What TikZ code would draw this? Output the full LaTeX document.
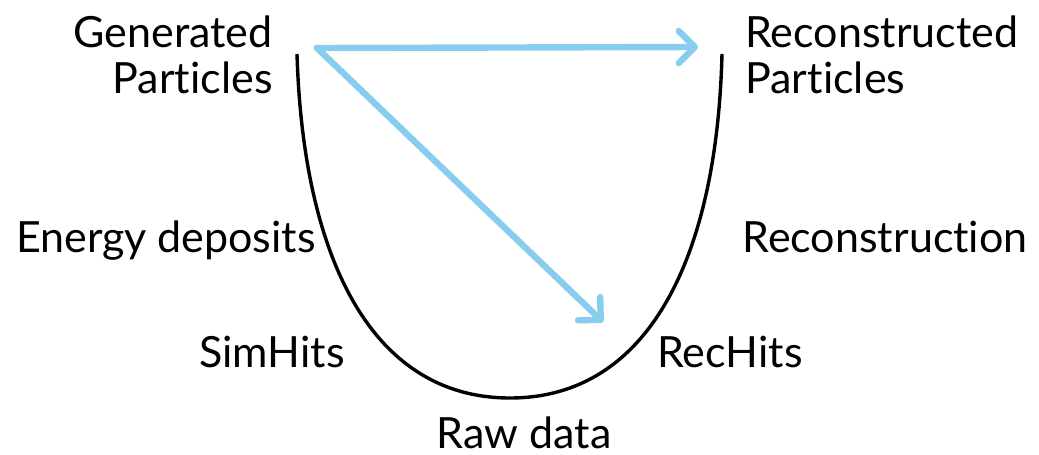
\documentclass[tikz,border=0pt]{standalone}
\usepackage{fontspec}
\setmainfont{Lato}[Ligatures=NoCommon]
\usepackage{tikz}
\usetikzlibrary{arrows.meta}
\definecolor{skyarrow}{HTML}{88CDEE}
\tikzset{
  lbl/.style={inner sep=0pt,font=\fontsize{21.5}{23}\selectfont},
  flow/.style={draw=skyarrow,line width=3.2pt,line cap=round,line join=round,
    -{Straight Barb[length=8pt,width=16pt,round]}}
}

\begin{document}
\begin{tikzpicture}[x=0.5pt,y=-0.5pt]
\useasboundingbox (0,0) rectangle (1039,455);
\draw[line width=1.7pt] (297,54) .. controls (303,255) and (370,398) .. (510,398)
  .. controls (650,398) and (717,255) .. (722,54);
\node[lbl,anchor=north east,align=right] (gen) at (273,15) {Generated\\Particles};
\node[lbl,anchor=north west,align=left] (rec) at (745,15) {Reconstructed\\Particles};
\node[lbl,anchor=base] (edep) at (166,252) {Energy deposits};
\node[lbl,anchor=base] (reco) at (885,252) {Reconstruction};
\node[lbl,anchor=base] (sim) at (272,367) {SimHits};
\node[lbl,anchor=base] (rhit) at (730,367) {RecHits};
\node[lbl,anchor=base] (raw) at (524,448) {Raw data};
\coordinate (src) at (317,48);
\coordinate (top) at (698,47);
\coordinate (low) at (603,322);
\draw[flow] (src) -- (top);
\draw[flow] (src) -- (low);
\end{tikzpicture}
\end{document}
